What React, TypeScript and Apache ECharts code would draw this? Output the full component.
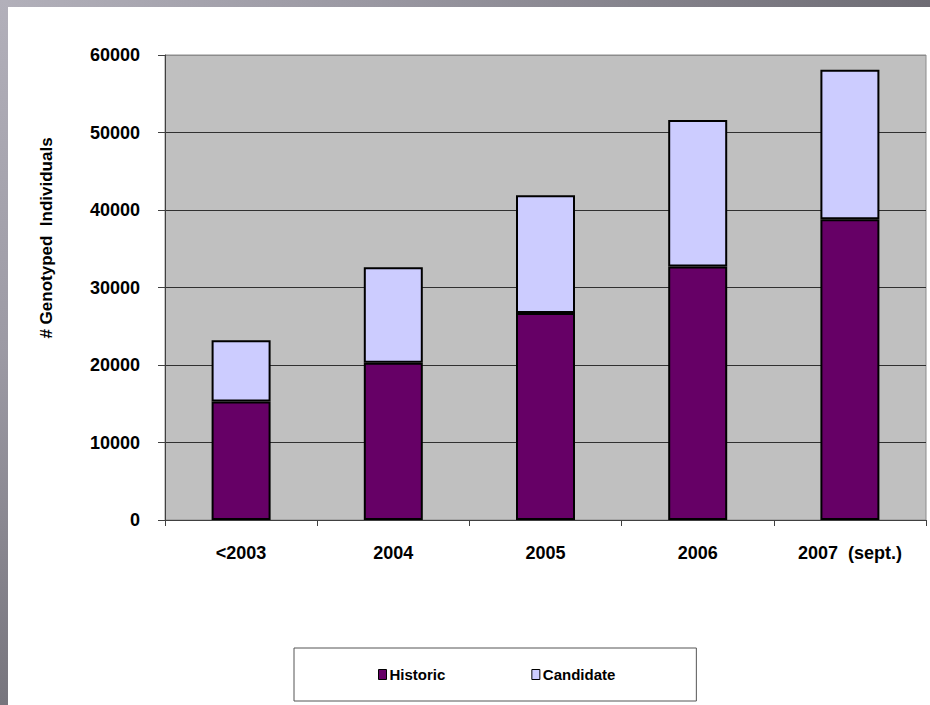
import React, { useEffect, useRef } from "react";
import * as echarts from "echarts";

const categories = ["<2003", "2004", "2005", "2006", "2007  (sept.)"];
const historic = [15300, 20300, 26700, 32700, 38800];
const candidate = [7900, 12300, 15200, 18900, 19300];
const seriesNames = ["Historic", "Candidate"];
const yTitle = "# Genotyped  Individuals";

export default function App() {
  const ref = useRef<HTMLDivElement>(null);
  useEffect(() => {
    if (!ref.current) return;
    const chart = echarts.init(ref.current, null, { renderer: "svg" });
    const font = "'Liberation Sans', Arial, sans-serif";
    chart.setOption({
      animation: false,
      backgroundColor: "transparent",
      grid: {
        left: 165,
        top: 55,
        right: 4,
        bottom: 185,
        show: true,
        backgroundColor: "#c0c0c0",
        borderColor: "#8c8c8c",
        borderWidth: 1,
        containLabel: false,
        outerBoundsMode: "none",
      },
      legend: {
        left: 294,
        top: 648,
        orient: "horizontal",
        data: seriesNames,
        backgroundColor: "#ffffff",
        borderColor: "#555555",
        borderWidth: 1,
        borderRadius: 0,
        padding: [19, 81, 19, 84],
        itemWidth: 8,
        itemHeight: 10,
        itemGap: 86,
        icon: "rect",
        itemStyle: { borderColor: "#000", borderWidth: 1 },
        textStyle: {
          fontFamily: font,
          fontWeight: "bold",
          fontSize: 15,
          color: "#000",
          padding: [0, 0, 0, -2],
        },
      },
      graphic: [
        {
          type: "text",
          x: 46,
          y: 238,
          rotation: Math.PI / 2,
          style: {
            text: yTitle,
            fontFamily: font,
            fontWeight: "bold",
            fontSize: 17,
            fill: "#000",
            align: "center",
            verticalAlign: "middle",
          },
        },
      ],
      xAxis: {
        type: "category",
        data: categories,
        axisLine: { show: true, lineStyle: { color: "#404040", width: 1 } },
        axisTick: { show: true, length: 6, lineStyle: { color: "#404040" } },
        axisLabel: {
          margin: 24,
          fontFamily: font,
          fontWeight: "bold",
          fontSize: 18,
          color: "#000",
          interval: 0,
        },
      },
      yAxis: {
        type: "value",
        min: 0,
        max: 60000,
        interval: 10000,
        axisLine: { show: true, lineStyle: { color: "#404040", width: 1 } },
        axisTick: { show: true, length: 7, lineStyle: { color: "#404040" } },
        axisLabel: {
          margin: 25,
          fontFamily: font,
          fontWeight: "bold",
          fontSize: 18,
          color: "#000",
          formatter: (v: number) => String(v),
        },
        splitLine: {
          show: true,
          lineStyle: {
            color: ["#303030", "#303030", "#303030", "#303030", "#303030", "#303030", "#8c8c8c"],
            width: 1,
          },
        },
      },
      series: [
        {
          name: seriesNames[0],
          type: "bar",
          stack: "total",
          barWidth: 59,
          data: historic,
          itemStyle: { color: "#660066", borderColor: "#000", borderWidth: 2 },
        },
        {
          name: seriesNames[1],
          type: "bar",
          stack: "total",
          barWidth: 59,
          data: candidate,
          itemStyle: { color: "#ccccff", borderColor: "#000", borderWidth: 2 },
        },
      ],
    });
    return () => chart.dispose();
  }, []);

  return (
    <div
      style={{
        position: "fixed",
        left: 0,
        top: 0,
        width: 930,
        height: 705,
        background: "#ffffff",
        overflow: "hidden",
      }}
    >
      <div
        style={{
          position: "absolute",
          left: 0,
          top: 0,
          width: 930,
          height: 7,
          background: "linear-gradient(to right, #b2b0ba, #9a98a2 40%, #6e6c74)",
        }}
      />
      <div
        style={{
          position: "absolute",
          left: 0,
          top: 0,
          width: 8,
          height: 705,
          background: "linear-gradient(to bottom, #b2b0ba, #9c9aa4 50%, #77757d)",
        }}
      />
      <div
        ref={ref}
        style={{ position: "absolute", left: 0, top: 0, width: 930, height: 705 }}
      />
    </div>
  );
}
